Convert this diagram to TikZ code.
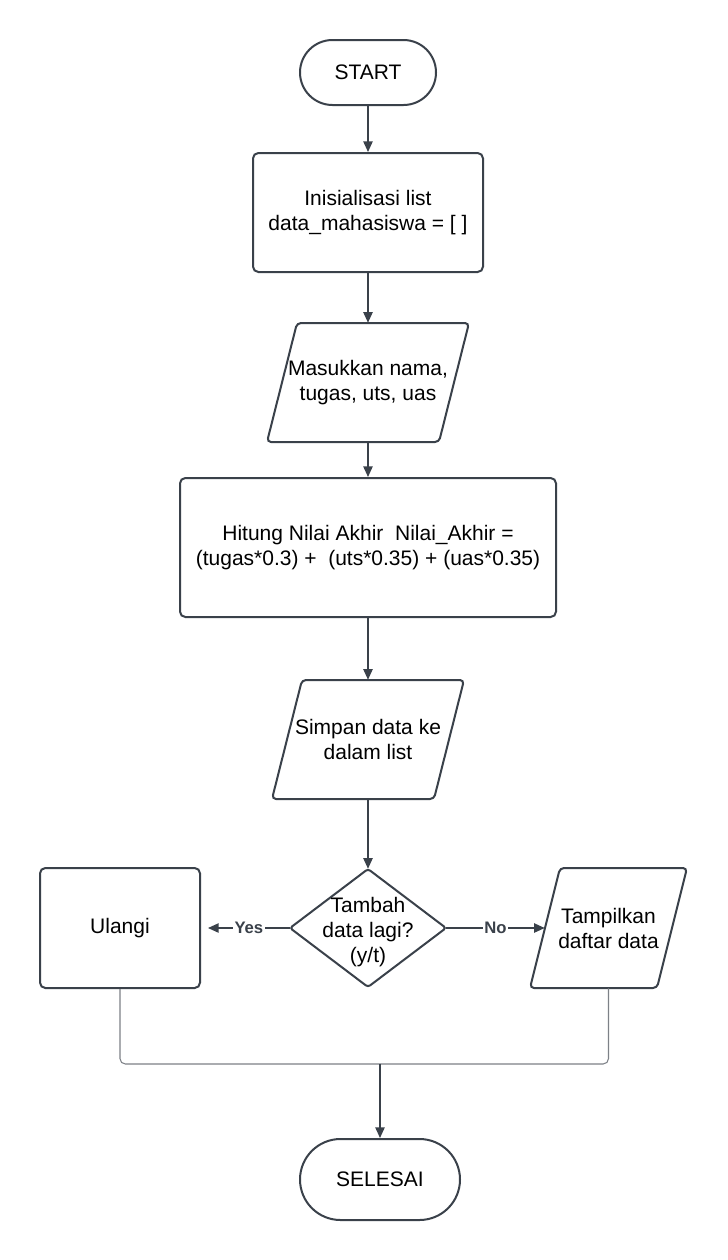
\documentclass[tikz,border=0pt]{standalone}
\usepackage{fontspec}
\setmainfont{Liberation Sans}
\usetikzlibrary{arrows.meta}
\definecolor{linec}{HTML}{3A414A}
\definecolor{greyline}{HTML}{7D8187}
\begin{document}
\begin{tikzpicture}[x=0.75pt,y=-0.75pt,
  every node/.style={font=\fontsize{15.75pt}{18.75pt}\selectfont, text=black},
  shapeline/.style={draw=linec, line width=1.5pt},
  term/.style={shapeline, rounded corners=#1, inner sep=0pt, align=center},
  procbox/.style={shapeline, rounded corners=4pt, inner sep=0pt, align=center},
  frame/.style={inner sep=0pt, align=center},
  arr/.style={draw=linec, line width=1.1pt, -{Triangle[length=8pt,width=7pt]}},
  lbl/.style={fill=white, font=\fontsize{12.5pt}{15pt}\selectfont\bfseries, text=linec, inner sep=1pt},
  joinline/.style={draw=greyline, line width=0.8pt, rounded corners=4pt}
]
\useasboundingbox (0,0) rectangle (728,1260);
\fill[white] (0,0) rectangle (728,1260);

% terminals and process boxes
\node[term=24.375pt, minimum width=102pt, minimum height=48.75pt] (start) at (368,72.5) {START};
\node[procbox, minimum width=172.5pt, minimum height=89.25pt] (init) at (368,212.5) {Inisialisasi list\\data\_mahasiswa = [ ]};

% input parallelogram 1
\draw[shapeline, rounded corners=3pt] (297,323) -- (469,323) -- (439,442) -- (267,442) -- cycle;
\node[frame, minimum width=151.5pt, minimum height=89.25pt] (inp) at (368,382.5) {Masukkan nama,\\tugas, uts, uas\ };

\node[procbox, minimum width=282pt, minimum height=104.25pt] (hitung) at (368,547.5) {Hitung Nilai Akhir\ \ Nilai\_Akhir =\\(tugas*0.3) +\ \ (uts*0.35) + (uas*0.35)};

% parallelogram 2
\draw[shapeline, rounded corners=3pt] (302,680) -- (464,680) -- (434,799) -- (272,799) -- cycle;
\node[frame, minimum width=144pt, minimum height=89.25pt] (simpan) at (368,739.5) {Simpan data ke\\dalam list};

% decision
\draw[shapeline, rounded corners=2pt] (290,928) -- (368,869) -- (446,928) -- (368,987) -- cycle;
\node[frame, minimum width=117pt, minimum height=88.5pt] (dec) at (368,928) {};
\node[frame] (dectxt) at (368,932) {Tambah\\data lagi?\\(y/t)};

\node[procbox, minimum width=120pt, minimum height=90pt] (ulangi) at (120,928) {Ulangi};

% parallelogram 3
\draw[shapeline, rounded corners=3pt] (560,868) -- (687,868) -- (657,988) -- (530,988) -- cycle;
\node[frame, minimum width=117.75pt, minimum height=90pt] (tamp) at (608.5,928) {Tampilkan\\daftar data};

\node[term=30.375pt, minimum width=120pt, minimum height=60.75pt] (selesai) at (380,1179.5) {SELESAI};

\coordinate (merge) at (380,1064);

% connectors
\draw[arr] (start) -- (init);
\draw[arr] (init) -- (inp);
\draw[arr] (inp) -- (hitung);
\draw[arr] (hitung) -- (simpan);
\draw[arr] (simpan) -- (dec);
\draw[arr] (dec.west) -- node[lbl]{Yes} ([xshift=5.25pt]ulangi.east);
\draw[arr] (dec.east) -- node[lbl]{No} ([xshift=11.25pt]tamp.west);
\draw[joinline] (ulangi.south) |- (merge);
\draw[joinline] (tamp.south) |- (merge);
\draw[arr] (merge) -- (selesai.north);
\end{tikzpicture}
\end{document}
